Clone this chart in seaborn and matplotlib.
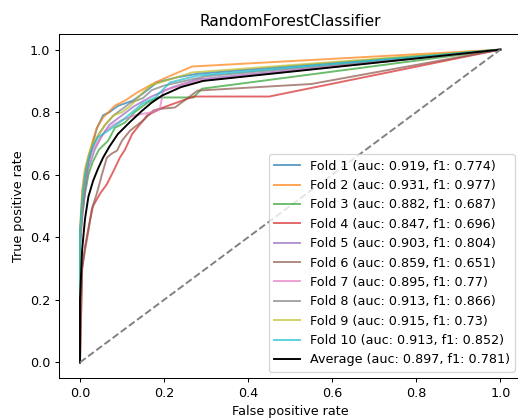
import numpy as np
import pandas as pd
import matplotlib
matplotlib.use("Agg")
import matplotlib.pyplot as plt
import seaborn as sns

# ROC points (false positive rate, true positive rate) for each CV fold
fold1_fpr = [0, 0.0, 0.005, 0.01, 0.02, 0.03, 0.04, 0.055, 0.07, 0.09, 0.126, 0.15, 0.183, 0.226, 0.28, 1]
fold1_tpr = [0, 0.40, 0.50, 0.58, 0.65, 0.70, 0.748, 0.79, 0.80, 0.82, 0.837, 0.86, 0.895, 0.91, 0.923, 1]

fold2_fpr = [0, 0.0, 0.005, 0.012, 0.02, 0.031, 0.04, 0.055, 0.083, 0.107, 0.136, 0.179, 0.226, 0.267, 1]
fold2_tpr = [0, 0.42, 0.55, 0.62, 0.66, 0.71, 0.75, 0.783, 0.821, 0.837, 0.863, 0.895, 0.923, 0.946, 1]

fold3_fpr = [0, 0.0, 0.005, 0.012, 0.02, 0.03, 0.045, 0.067, 0.083, 0.107, 0.13, 0.16, 0.186, 0.27, 0.29, 1]
fold3_tpr = [0, 0.38, 0.47, 0.54, 0.60, 0.64, 0.68, 0.709, 0.75, 0.767, 0.80, 0.83, 0.847, 0.847, 0.875, 1]

fold4_fpr = [0, 0.005, 0.012, 0.02, 0.031, 0.048, 0.064, 0.079, 0.095, 0.107, 0.124, 0.16, 0.198, 0.27, 0.45, 1]
fold4_tpr = [0, 0.30, 0.37, 0.43, 0.50, 0.54, 0.57, 0.61, 0.655, 0.68, 0.73, 0.79, 0.815, 0.85, 0.85, 1]

fold5_fpr = [0, 0.0, 0.005, 0.012, 0.02, 0.035, 0.05, 0.07, 0.10, 0.13, 0.17, 0.22, 0.28, 1]
fold5_tpr = [0, 0.36, 0.46, 0.55, 0.62, 0.68, 0.72, 0.76, 0.79, 0.82, 0.85, 0.88, 0.905, 1]

fold6_fpr = [0, 0.005, 0.012, 0.02, 0.028, 0.04, 0.052, 0.064, 0.076, 0.088, 0.10, 0.119, 0.15, 0.174, 0.186, 0.226, 0.28, 0.55, 1]
fold6_tpr = [0, 0.30, 0.36, 0.42, 0.49, 0.54, 0.60, 0.655, 0.668, 0.677, 0.709, 0.741, 0.773, 0.805, 0.81, 0.815, 0.869, 0.89, 1]

fold7_fpr = [0, 0.0, 0.005, 0.012, 0.02, 0.03, 0.045, 0.06, 0.08, 0.10, 0.131, 0.171, 0.19, 0.198, 0.28, 1]
fold7_tpr = [0, 0.38, 0.50, 0.58, 0.64, 0.68, 0.71, 0.74, 0.76, 0.775, 0.79, 0.80, 0.81, 0.869, 0.90, 1]

fold8_fpr = [0, 0.0, 0.005, 0.012, 0.02, 0.03, 0.045, 0.06, 0.08, 0.10, 0.12, 0.15, 0.17, 0.20, 0.25, 0.30, 1]
fold8_tpr = [0, 0.40, 0.50, 0.58, 0.64, 0.69, 0.73, 0.76, 0.79, 0.81, 0.83, 0.845, 0.87, 0.885, 0.90, 0.915, 1]

fold9_fpr = [0, 0.0, 0.005, 0.012, 0.02, 0.03, 0.045, 0.06, 0.08, 0.10, 0.12, 0.147, 0.167, 0.267, 1]
fold9_tpr = [0, 0.40, 0.52, 0.60, 0.66, 0.70, 0.73, 0.76, 0.79, 0.80, 0.82, 0.86, 0.885, 0.927, 1]

fold10_fpr = [0, 0.0, 0.005, 0.012, 0.02, 0.03, 0.043, 0.067, 0.10, 0.148, 0.179, 0.214, 0.28, 1]
fold10_tpr = [0, 0.42, 0.52, 0.60, 0.65, 0.69, 0.72, 0.741, 0.773, 0.827, 0.847, 0.895, 0.917, 1]

mean_fpr = [0, 0.0, 0.005, 0.012, 0.02, 0.031, 0.043, 0.055, 0.07, 0.09, 0.12, 0.148, 0.17, 0.195, 0.24, 0.293, 1]
mean_tpr = [0, 0.20, 0.36, 0.46, 0.53, 0.58, 0.62, 0.655, 0.69, 0.73, 0.77, 0.805, 0.83, 0.853, 0.88, 0.90, 1]

fold_labels = [
    "Fold 1 (auc: 0.919, f1: 0.774)",
    "Fold 2 (auc: 0.931, f1: 0.977)",
    "Fold 3 (auc: 0.882, f1: 0.687)",
    "Fold 4 (auc: 0.847, f1: 0.696)",
    "Fold 5 (auc: 0.903, f1: 0.804)",
    "Fold 6 (auc: 0.859, f1: 0.651)",
    "Fold 7 (auc: 0.895, f1: 0.77)",
    "Fold 8 (auc: 0.913, f1: 0.866)",
    "Fold 9 (auc: 0.915, f1: 0.73)",
    "Fold 10 (auc: 0.913, f1: 0.852)",
]
mean_label = "Average (auc: 0.897, f1: 0.781)"

fold_fprs = [fold1_fpr, fold2_fpr, fold3_fpr, fold4_fpr, fold5_fpr,
             fold6_fpr, fold7_fpr, fold8_fpr, fold9_fpr, fold10_fpr]
fold_tprs = [fold1_tpr, fold2_tpr, fold3_tpr, fold4_tpr, fold5_tpr,
             fold6_tpr, fold7_tpr, fold8_tpr, fold9_tpr, fold10_tpr]

frames = []
for label, f, t in zip(fold_labels, fold_fprs, fold_tprs):
    frames.append(pd.DataFrame({"fpr": f, "tpr": t, "fold": label}))
roc = pd.concat(frames, ignore_index=True)
avg = pd.DataFrame({"fpr": mean_fpr, "tpr": mean_tpr})

DPI = 92
fig = plt.figure(figsize=(518 / DPI, 418 / DPI), dpi=DPI)
ax = fig.add_axes([0.1139, 0.0957, 0.8925, 0.823])

sns.lineplot(data=roc, x="fpr", y="tpr", hue="fold", hue_order=fold_labels,
             palette="tab10", sort=False, estimator=None, units="fold",
             linewidth=1.5, alpha=0.7, ax=ax)
sns.lineplot(data=avg, x="fpr", y="tpr", color="black", sort=False,
             estimator=None, linewidth=1.5, label=mean_label, ax=ax)
ax.plot([0, 1], [0, 1], linestyle="--", color="gray", linewidth=1.5)

ax.set_xlim(-0.05, 1.05)
ax.set_ylim(-0.05, 1.05)
ax.set_xticks([0.0, 0.2, 0.4, 0.6, 0.8, 1.0])
ax.set_yticks([0.0, 0.2, 0.4, 0.6, 0.8, 1.0])
ax.set_xlabel("False positive rate")
ax.set_ylabel("True positive rate")
ax.set_title("RandomForestClassifier")

handles, labels = ax.get_legend_handles_labels()
ax.legend(handles, labels, loc="lower right")

fig.savefig("out.png", dpi=DPI)
